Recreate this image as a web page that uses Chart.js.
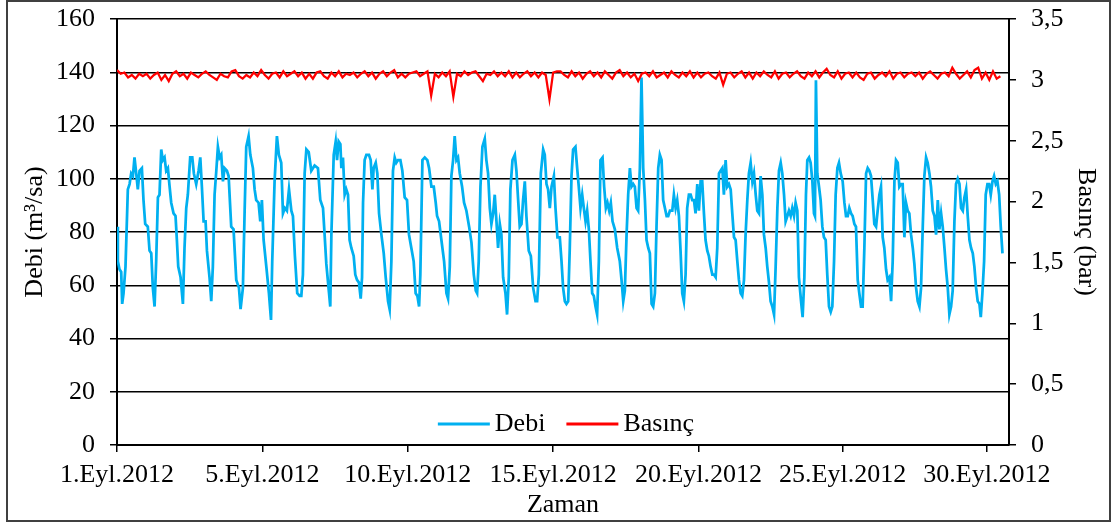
<!DOCTYPE html>
<html>
<head>
<meta charset="utf-8">
<script src="https://cdn.jsdelivr.net/npm/chart.js@4.4.0/dist/chart.umd.min.js"></script>
<style>
html,body{margin:0;padding:0;background:#fff}
</style>
</head>
<body>
<canvas id="grafik" width="1118" height="525"></canvas>
<script>
// zaman ekseni etiketleri (saat cinsinden konum)
const tickSaat = [0, 118, 236, 354, 472, 589, 706]
const tickEtiket = ['1.Eyl.2012', '5.Eyl.2012', '10.Eyl.2012', '15.Eyl.2012', '20.Eyl.2012', '25.Eyl.2012', '30.Eyl.2012']

// Debi (m3/sa) - okuma saatleri ve degerler
const debiSaat = [
  0, 0.7, 2.0, 3.4, 4.2, 5.3, 6.9, 8.8, 10.2, 11.5, 12.9, 14.2, 15.6, 16.9, 18.3, 20.2, 21.5, 22.9,
  25.0, 26.4, 27.8, 29.1, 30.5, 31.8, 33.2, 34.5, 35.9, 37.2, 38.6, 39.9, 41.3, 42.7, 44.0, 45.9, 47.5,
  48.6, 49.7, 51.6, 53.5, 54.8, 56.2, 57.5, 59.4, 61.1, 62.4, 64.3, 66.2, 67.6, 68.9, 70.3, 71.9,
  73.0, 75.1, 76.5, 77.8, 79.2, 80.6, 81.9, 83.3, 84.6, 86.0, 87.3, 89.2, 90.6, 92.7, 94.6,
  96.8, 99.0, 100.3, 102.2, 103.6, 104.9, 106.8, 108.2, 110.3, 111.7, 113.0, 114.9, 116.3, 117.6, 119.0,
  121.2, 123.3, 125.0, 126.0, 127.9, 129.8, 131.4, 133.3, 134.7, 136.3, 137.9, 139.6, 141.5, 142.8,
  144.4, 146.3, 148.2, 149.6, 150.9, 152.3, 153.7, 155.6, 157.7, 160.4, 163.1, 165.0, 167.2,
  168.5, 169.9, 172.1, 173.1, 174.0, 175.9, 177.5, 178.6, 179.9, 181.3, 182.1, 183.4, 184.8, 186.1, 187.5,
  188.8, 190.2, 192.1, 193.4, 194.8, 196.4, 197.8, 198.9, 199.7, 201.0, 202.4, 204.5, 205.9, 207.3, 208.3,
  210.0, 211.3, 212.7, 214.6, 216.5, 218.1, 220.0, 221.3, 222.7, 224.0, 225.4, 226.7, 228.1, 230.0, 231.6,
  233.5, 235.4, 237.0, 238.9, 240.8, 242.4, 243.8, 245.2, 246.2, 247.9, 249.8, 251.9, 253.3, 255.2, 257.1,
  258.7, 259.8, 261.4, 263.3, 265.5, 267.4, 268.7, 270.1, 271.4, 272.8, 274.1, 275.5, 276.8, 278.2, 280.1,
  281.7, 283.6, 285.8, 287.7, 289.6, 291.2, 292.3, 293.6, 295.0, 296.6, 298.5, 299.8, 301.2, 302.6, 303.9,
  305.3, 306.6, 308.0, 309.3, 310.7, 312.0, 313.4, 315.3, 316.6, 318.0, 319.3, 321.0, 322.9, 324.2, 325.6,
  326.9, 328.3, 329.6, 331.0, 332.3, 334.2, 335.9, 337.8, 339.7, 341.0, 342.4, 344.0, 345.9, 347.2, 348.6,
  349.9, 351.3, 352.7, 354.6, 355.9, 357.5, 359.4, 360.8, 362.1, 363.5, 364.8, 366.2, 367.5, 368.9, 370.2,
  372.1, 373.5, 374.8, 376.2, 377.6, 378.9, 380.3, 381.6, 383.0, 384.3, 385.7, 387.0, 388.4, 389.7, 391.1,
  392.4, 394.1, 395.4, 396.8, 398.1, 399.5, 400.8, 402.2, 404.1, 406.0, 408.1, 409.5, 410.9, 412.2, 413.6,
  414.9, 416.3, 417.6, 419.0, 420.3, 421.7, 423.0, 424.4, 425.7, 427.1, 428.5, 429.8, 431.2, 432.5, 433.9,
  435.2, 436.6, 437.9, 439.3, 440.6, 442.0, 443.3, 444.7, 446.1, 447.4, 448.8, 450.7, 452.0, 453.4, 454.7,
  456.1, 457.4, 458.8, 460.1, 461.5, 462.8, 464.2, 465.6, 466.9, 468.3, 469.6, 471.0, 472.3, 473.7, 475.0,
  476.4, 477.7, 479.1, 480.4, 481.8, 483.2, 484.5, 485.9, 487.2, 488.6, 489.9, 491.3, 492.6, 494.0, 495.3,
  496.7, 498.1, 499.4, 500.8, 502.1, 503.5, 504.8, 506.2, 507.5, 508.9, 510.2, 511.6, 512.9, 514.3, 515.7,
  517.0, 518.4, 519.7, 521.1, 522.4, 523.8, 525.1, 526.5, 527.8, 529.2, 530.5, 531.9, 533.3, 534.6, 536.0,
  537.3, 538.7, 540.0, 541.4, 542.7, 544.1, 545.4, 546.8, 548.1, 549.5, 550.8, 552.2, 553.5, 555.2, 556.5,
  557.9, 559.2, 560.3, 561.7, 563.0, 564.4, 565.7, 566.5, 567.3, 568.4, 569.8, 571.1, 572.5, 573.8, 575.2,
  576.5, 577.9, 579.3, 580.6, 582.0, 583.3, 584.7, 586.0, 587.4, 589.0, 590.4, 591.7, 593.1, 594.4, 595.8,
  597.1, 598.5, 599.8, 601.2, 602.5, 603.9, 605.2, 606.6, 608.0, 609.3, 610.7, 612.0, 613.4, 614.7, 616.1,
  617.4, 618.8, 620.1, 621.5, 622.8, 624.2, 625.5, 626.9, 628.3, 629.6, 631.0, 632.3, 633.7, 635.0, 636.4,
  637.7, 639.1, 640.4, 641.8, 643.1, 644.5, 645.9, 647.2, 648.6, 649.9, 651.3, 652.6, 654.0, 655.3, 656.7,
  658.0, 659.4, 660.7, 662.1, 663.5, 664.8, 666.2, 667.5, 668.9, 670.2, 671.6, 672.9, 674.3, 675.6, 677.0,
  678.3, 679.7, 681.0, 682.4, 683.8, 685.1, 686.5, 687.8, 689.2, 690.5, 691.9, 693.2, 694.6, 695.9, 697.3,
  698.6, 700.0, 701.1, 702.4, 703.8, 705.1, 706.5, 707.9, 709.2, 710.6, 711.9, 713.3, 714.6, 716.0, 717.3, 718.7
]
const debi = [
  82, 69, 66, 65, 53, 57, 67, 96, 98, 102, 101, 108, 102, 96, 103, 104, 92, 83,
  82, 73, 72, 59, 52, 69, 93, 94, 111, 107, 108, 103, 104, 97, 91, 87, 86,
  77, 67, 63, 53, 74, 89, 94, 108, 108, 102, 98, 103, 108, 97, 84, 84,
  73, 63, 54, 67, 94, 103, 112, 108, 109, 99, 104, 103, 101, 82, 81,
  62, 59, 51, 59, 88, 112, 116, 109, 104, 96, 92, 91, 84, 92, 77,
  67, 57, 47, 69, 99, 116, 109, 106, 87, 89, 88, 96, 88, 86,
  71, 57, 56, 56, 64, 102, 111, 110, 103, 105, 104, 92, 89,
  79, 68, 57, 52, 79, 109, 114, 107, 114, 113, 104, 108, 94, 96, 94,
  77, 74, 71, 64, 62, 61, 55, 63, 91, 107, 109, 109, 107, 96, 104,
  106, 102, 87, 79, 72, 63, 54, 51, 69, 103, 108, 106, 107, 107, 103,
  93, 92, 79, 74, 69, 57, 56, 52, 64, 107, 108, 107, 104, 97, 97,
  91, 86, 84, 77, 69, 57, 55, 67, 101, 107, 116, 107, 108, 102, 97,
  91, 88, 82, 76, 64, 58, 57, 69, 97, 112, 115, 107, 102, 89, 83,
  87, 94, 84, 74, 83, 79, 63, 57, 49, 63, 96, 107, 109, 103, 92,
  82, 83, 92, 99, 86, 73, 71, 59, 54, 54, 64, 102, 111, 109, 98,
  96, 89, 97, 101, 89, 78, 78, 69, 59, 54, 53, 54, 74, 101, 111,
  112, 104, 97, 89, 94, 89, 84, 88, 81, 69, 57, 56, 52, 49, 69,
  107, 108, 97, 89, 91, 88, 91, 84, 81, 74, 69, 62, 54, 58, 79,
  94, 104, 97, 98, 97, 89, 88, 104, 138, 104, 92, 77, 74, 72, 53,
  52, 57, 82, 104, 109, 107, 92, 89, 86, 86, 88, 88, 94, 89, 92,
  86, 73, 57, 54, 64, 89, 94, 94, 92, 92, 87, 98, 88, 99, 99,
  87, 77, 73, 71, 67, 64, 64, 63, 74, 102, 103, 104, 94, 107, 97,
  98, 96, 87, 78, 77, 69, 62, 57, 56, 62, 79, 92, 102, 106, 99,
  102, 94, 88, 87, 101, 94, 79, 74, 67, 61, 54, 52, 49, 67, 89,
  103, 106, 102, 94, 84, 86, 88, 86, 89, 86, 91, 88, 63, 54, 48,
  63, 94, 107, 108, 106, 99, 87, 86, 137, 102, 97, 92, 82, 78, 77,
  64, 52, 50, 52, 69, 94, 104, 106, 102, 99, 91, 86, 86, 89, 87,
  86, 83, 82, 62, 57, 52, 52, 74, 102, 104, 103, 101, 92, 83, 82,
  88, 94, 97, 78, 74, 66, 62, 63, 54, 69, 99, 107, 106, 97, 98,
  98, 78, 91, 88, 87, 79, 74, 68, 59, 54, 52, 59, 82, 101, 108,
  106, 102, 97, 88, 86, 79, 92, 81, 87, 82, 74, 66, 59, 49, 52,
  58, 84, 98, 100, 98, 89, 88, 93, 96, 86, 77, 74, 72, 67, 59,
  54, 53, 48, 57, 69, 94, 98, 98, 94, 99, 101, 98, 99, 94, 82, 72
]

// Basinc (bar) - 3 saatte bir okuma
const basinc = [
  3.08, 3.05, 3.06, 3.02, 3.04, 3.01, 3.05, 3.03,
  3.05, 3.01, 3.04, 3.06, 3.00, 3.04, 2.99, 3.05,
  3.07, 3.03, 3.05, 3.01, 3.06, 3.04, 3.02, 3.05,
  3.07, 3.04, 3.02, 3.00, 3.05, 3.03, 3.02, 3.07,
  3.08, 3.03, 3.01, 3.04, 3.02, 3.06, 3.03, 3.08,
  3.04, 3.01, 3.05, 3.06, 3.02, 3.07, 3.03, 3.05,
  3.07, 3.03, 3.06, 3.01, 3.05, 3.01, 3.06, 3.07,
  3.03, 3.01, 3.06, 3.03, 3.07, 3.02, 3.05, 3.04,
  3.06, 3.02, 3.05, 3.07, 3.03, 3.06, 3.01, 3.05,
  3.07, 3.03, 3.06, 3.08, 3.02, 3.05, 3.02, 3.05,
  3.06, 3.07, 3.03, 3.05, 3.07, 2.87, 3.05, 3.02,
  3.06, 3.03, 3.07, 2.86, 3.05, 3.03, 3.07, 3.04,
  3.06, 3.07, 3.03, 2.99, 3.05, 3.04, 3.07, 3.03,
  3.06, 3.03, 3.07, 3.02, 3.06, 3.02, 3.05, 3.07,
  3.03, 3.06, 3.02, 3.06, 3.04, 2.84, 3.06, 3.07,
  3.07, 3.04, 3.02, 3.07, 3.03, 3.06, 3.01, 3.05,
  3.07, 3.03, 3.06, 3.02, 3.07, 3.04, 3.01, 3.06,
  3.08, 3.03, 3.06, 3.02, 3.05, 2.99, 3.05, 3.06,
  3.03, 3.07, 3.02, 3.04, 3.06, 3.02, 3.07, 3.04,
  3.02, 3.06, 3.03, 3.07, 3.02, 3.06, 3.02, 3.05,
  3.06, 3.03, 3.01, 3.06, 2.96, 3.05, 3.06, 3.02,
  3.05, 3.07, 3.02, 3.06, 3.01, 3.06, 3.03, 3.07,
  3.04, 3.02, 3.07, 3.01, 3.05, 3.06, 3.02, 3.05,
  3.07, 3.03, 3.01, 3.06, 3.03, 3.07, 3.02, 3.06,
  3.09, 3.04, 3.02, 3.07, 3.01, 3.05, 3.06, 3.02,
  3.06, 3.02, 3.00, 3.05, 3.06, 3.01, 3.04, 3.06,
  3.03, 3.07, 3.01, 3.05, 3.06, 3.02, 3.05, 3.06,
  3.03, 3.06, 3.01, 3.05, 3.07, 3.04, 3.01, 3.05,
  3.06, 3.03, 3.10, 3.05, 3.01, 3.04, 3.07, 3.02,
  3.08, 3.10, 3.01, 3.06, 3.00, 3.07, 3.01, 3.03
]
const basincSaat = basinc.map((v, i) => i * 3)

const yazi = 'Liberation Serif'
Chart.defaults.font.family = yazi
Chart.defaults.color = '#000'

// grafik cercevesi
const cerceve = {
  id: 'cerceve',
  beforeDraw(chart) {
    const ctx = chart.ctx
    ctx.save()
    ctx.fillStyle = '#fff'
    ctx.fillRect(0, 0, chart.width, chart.height)
    ctx.strokeStyle = '#404040'
    ctx.lineWidth = 2
    ctx.strokeRect(7, 1, 1103, 520)
    ctx.restore()
  }
}

// lejant cizim alaninin icinde, altta ortada
const icLejant = {
  id: 'icLejant',
  afterDraw(chart) {
    const ctx = chart.ctx, ca = chart.chartArea
    ctx.save()
    ctx.font = '26px "' + yazi + '"'
    ctx.textBaseline = 'middle'
    const cizgi = 52, bosluk = 5, ara = 21
    const setler = chart.data.datasets
    let toplam = 0
    setler.forEach((d, i) => { toplam += cizgi + bosluk + ctx.measureText(d.label).width + (i ? ara : 0) })
    let x = (ca.left + ca.right) / 2 - toplam / 2 + 3
    const y = ca.bottom - 21
    setler.forEach((d, i) => {
      if (i) x += ara
      ctx.strokeStyle = d.borderColor
      ctx.lineWidth = 3
      ctx.beginPath(); ctx.moveTo(x, y); ctx.lineTo(x + cizgi, y); ctx.stroke()
      x += cizgi + bosluk
      ctx.fillStyle = '#000'
      ctx.fillText(d.label, x, y)
      x += ctx.measureText(d.label).width
    })
    ctx.restore()
  }
}

function padSifirla(a) {
  a.paddingTop = 0; a.paddingBottom = 0; a.paddingLeft = 0; a.paddingRight = 0
}

const ctx = document.getElementById('grafik').getContext('2d')
const grafik = new Chart(ctx, {
  type: 'line',
  data: {
    datasets: [{
      label: 'Debi',
      data: debiSaat.map((s, i) => ({ x: s, y: debi[i] })),
      borderColor: '#00b0f0',
      borderWidth: 2.75,
      pointRadius: 0,
      yAxisID: 'y',
      order: 2
    }, {
      label: 'Basınç',
      data: basincSaat.map((s, i) => ({ x: s, y: basinc[i] })),
      borderColor: '#ff0000',
      borderWidth: 2.25,
      pointRadius: 0,
      yAxisID: 'y1',
      order: 1
    }]
  },
  options: {
    responsive: false,
    animation: false,
    layout: { padding: { top: 19, left: 0, right: 0, bottom: 0 } },
    plugins: { legend: { display: false }, tooltip: { enabled: false } },
    scales: {
      x: {
        type: 'linear', min: 0, max: 724,
        afterBuildTicks(a) { a.ticks = tickSaat.map(v => ({ value: v })) },
        afterFit(a) { a.height = 80; padSifirla(a) },
        ticks: { autoSkip: false, maxRotation: 0, padding: 8, font: { size: 26 },
          callback: (v, i) => tickEtiket[i] },
        grid: { drawOnChartArea: false, color: '#000', lineWidth: 1.5, tickLength: 7 },
        border: { color: '#000', width: 2 },
        title: { display: true, text: 'Zaman', font: { size: 26 }, padding: { top: 0, bottom: 4 } }
      },
      y: {
        position: 'left', min: 0, max: 160,
        afterFit(a) { a.width = 117; padSifirla(a) },
        ticks: { stepSize: 20, padding: 15, font: { size: 26 } },
        grid: { color: '#000', lineWidth: 1.5, tickLength: 7 },
        border: { color: '#000', width: 2 },
        title: { display: true, text: 'Debi (m³/sa)', font: { size: 26 }, padding: { top: 20, bottom: 0 } }
      },
      y1: {
        position: 'right', min: 0, max: 3.5,
        afterFit(a) { a.width = 109; padSifirla(a) },
        ticks: { stepSize: 0.5, padding: 15, font: { size: 26 },
          callback: v => String(v).replace('.', ',') },
        grid: { drawOnChartArea: false, color: '#000', lineWidth: 1.5, tickLength: 7 },
        border: { color: '#000', width: 2 },
        title: { display: true, text: 'Basınç (bar)', font: { size: 26 }, padding: { top: 17, bottom: 0 } }
      }
    }
  },
  plugins: [cerceve, icLejant]
})
</script>
</body>
</html>
